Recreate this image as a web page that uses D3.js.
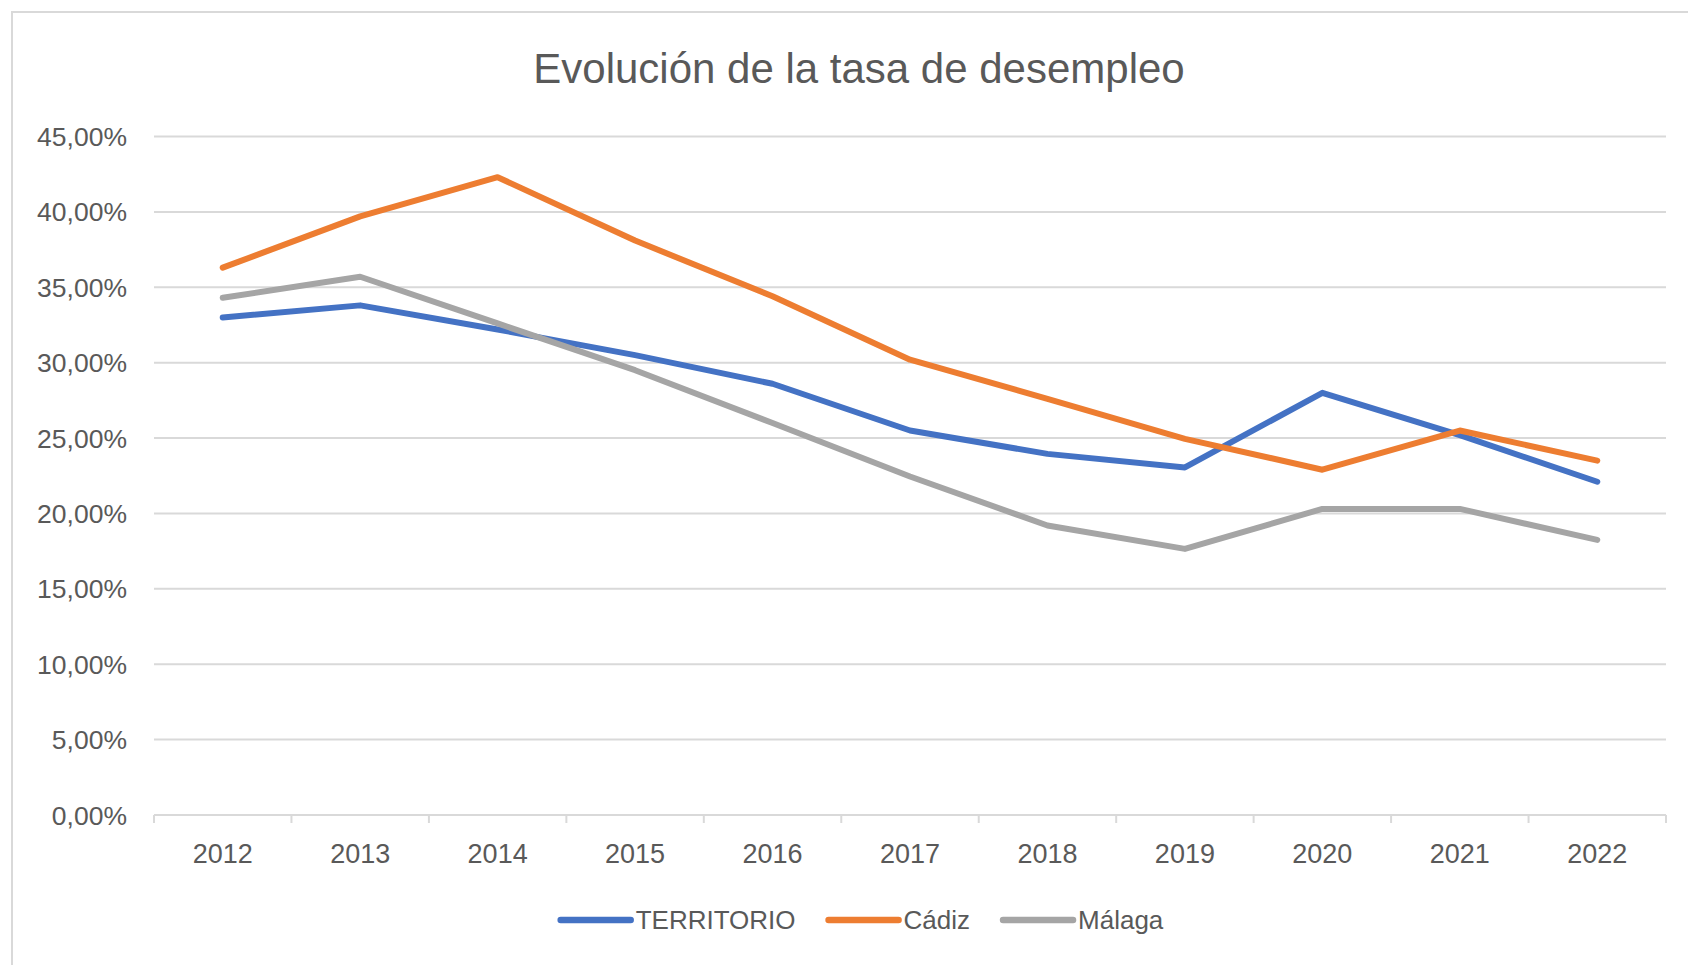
<!DOCTYPE html>
<html>
<head>
<meta charset="utf-8">
<script src="https://cdn.jsdelivr.net/npm/d3@7"></script>
<style>
  body { margin: 0; background: #fff; }
  svg text { font-family: 'Liberation Sans', Arial, sans-serif; fill: #595959; }
</style>
</head>
<body>
<svg id="chart" width="1688" height="965"></svg>
<script>
// data (tasa de desempleo, %)
var years = ['2012', '2013', '2014', '2015', '2016', '2017', '2018', '2019', '2020', '2021', '2022'];
var territorio = [33.0, 33.8, 32.2, 30.5, 28.6, 25.5, 23.95, 23.05, 28.0, 25.2, 22.1];
var cadiz = [36.3, 39.7, 42.3, 38.1, 34.4, 30.2, 27.6, 24.95, 22.9, 25.5, 23.5];
var malaga = [34.3, 35.7, 32.6, 29.5, 26.0, 22.45, 19.2, 17.65, 20.3, 20.3, 18.25];
var yTicks = [0, 5, 10, 15, 20, 25, 30, 35, 40, 45];
var seriesNames = ['TERRITORIO', 'Cádiz', 'Málaga'];

var blue = '#4472C4';
var orange = '#ED7D31';
var grey = '#A5A5A5';
var gridColor = '#D9D9D9';

var series = [
  { name: seriesNames[0], values: territorio, color: blue },
  { name: seriesNames[1], values: cadiz, color: orange },
  { name: seriesNames[2], values: malaga, color: grey }
];

var svg = d3.select('#chart');

// chart frame (right and bottom edges run off the picture)
svg.append('rect')
  .attr('x', 12)
  .attr('y', 12)
  .attr('width', 1720)
  .attr('height', 1000)
  .attr('fill', '#fff')
  .attr('stroke', gridColor)
  .attr('stroke-width', 2);

var x = d3.scaleBand()
  .domain(years)
  .range([154, 1666]);

var y = d3.scaleLinear()
  .domain([0, 45])
  .range([815, 136.5]);

var fmt = function(d) { return d.toFixed(2).replace('.', ',') + '%'; };

// title
svg.append('text')
  .attr('x', 859)
  .attr('y', 83)
  .attr('text-anchor', 'middle')
  .style('font-size', '42px')
  .text('Evolución de la tasa de desempleo');

// horizontal gridlines
svg.append('g')
  .selectAll('line')
  .data(yTicks.slice(1))
  .enter().append('line')
  .attr('x1', x.range()[0])
  .attr('x2', x.range()[1])
  .attr('y1', function(d) { return y(d); })
  .attr('y2', function(d) { return y(d); })
  .attr('stroke', gridColor)
  .attr('stroke-width', 2);

// y labels
svg.append('g')
  .selectAll('text')
  .data(yTicks)
  .enter().append('text')
  .attr('x', 127)
  .attr('y', function(d) { return y(d); })
  .attr('dy', '0.36em')
  .attr('text-anchor', 'end')
  .style('font-size', '26.5px')
  .text(fmt);

// x axis line + ticks at band edges
svg.append('line')
  .attr('x1', x.range()[0])
  .attr('x2', x.range()[1])
  .attr('y1', y(0))
  .attr('y2', y(0))
  .attr('stroke', gridColor)
  .attr('stroke-width', 2);

var edges = years.map(function(d) { return x(d); }).concat([x.range()[1]]);

svg.append('g')
  .selectAll('line')
  .data(edges)
  .enter().append('line')
  .attr('x1', function(d) { return d; })
  .attr('x2', function(d) { return d; })
  .attr('y1', y(0))
  .attr('y2', y(0) + 8)
  .attr('stroke', gridColor)
  .attr('stroke-width', 2);

svg.append('g')
  .selectAll('text')
  .data(years)
  .enter().append('text')
  .attr('x', function(d) { return x(d) + x.bandwidth() / 2; })
  .attr('y', 863)
  .attr('text-anchor', 'middle')
  .style('font-size', '27px')
  .text(function(d) { return d; });

// lines
var line = d3.line()
  .x(function(d, i) { return x(years[i]) + x.bandwidth() / 2; })
  .y(function(d) { return y(d); });

svg.append('g')
  .selectAll('path')
  .data(series)
  .enter().append('path')
  .attr('d', function(d) { return line(d.values); })
  .attr('fill', 'none')
  .attr('stroke', function(d) { return d.color; })
  .attr('stroke-width', 6)
  .attr('stroke-linecap', 'round')
  .attr('stroke-linejoin', 'round');

// legend, centred under the plot
var legendY = 920;
var symbolLen = 70;
var symbolGap = 5;
var itemGap = 33;

var legend = svg.append('g');
var items = legend.selectAll('g')
  .data(series)
  .enter().append('g');

items.append('line')
  .attr('x1', 0)
  .attr('x2', symbolLen)
  .attr('y1', legendY)
  .attr('y2', legendY)
  .attr('stroke', function(d) { return d.color; })
  .attr('stroke-width', 6.5)
  .attr('stroke-linecap', 'round');

items.append('text')
  .attr('x', symbolLen + symbolGap)
  .attr('y', legendY)
  .attr('dy', '0.36em')
  .style('font-size', '26px')
  .text(function(d) { return d.name; });

var offset = 0;
var widths = [];
items.each(function() {
  var w = symbolLen + symbolGap + d3.select(this).select('text').node().getComputedTextLength();
  widths.push(offset);
  offset += w + itemGap;
});
var total = offset - itemGap;
var startX = 862 - total / 2;
items.attr('transform', function(d, i) { return 'translate(' + (startX + widths[i]) + ',0)'; });
</script>
</body>
</html>
